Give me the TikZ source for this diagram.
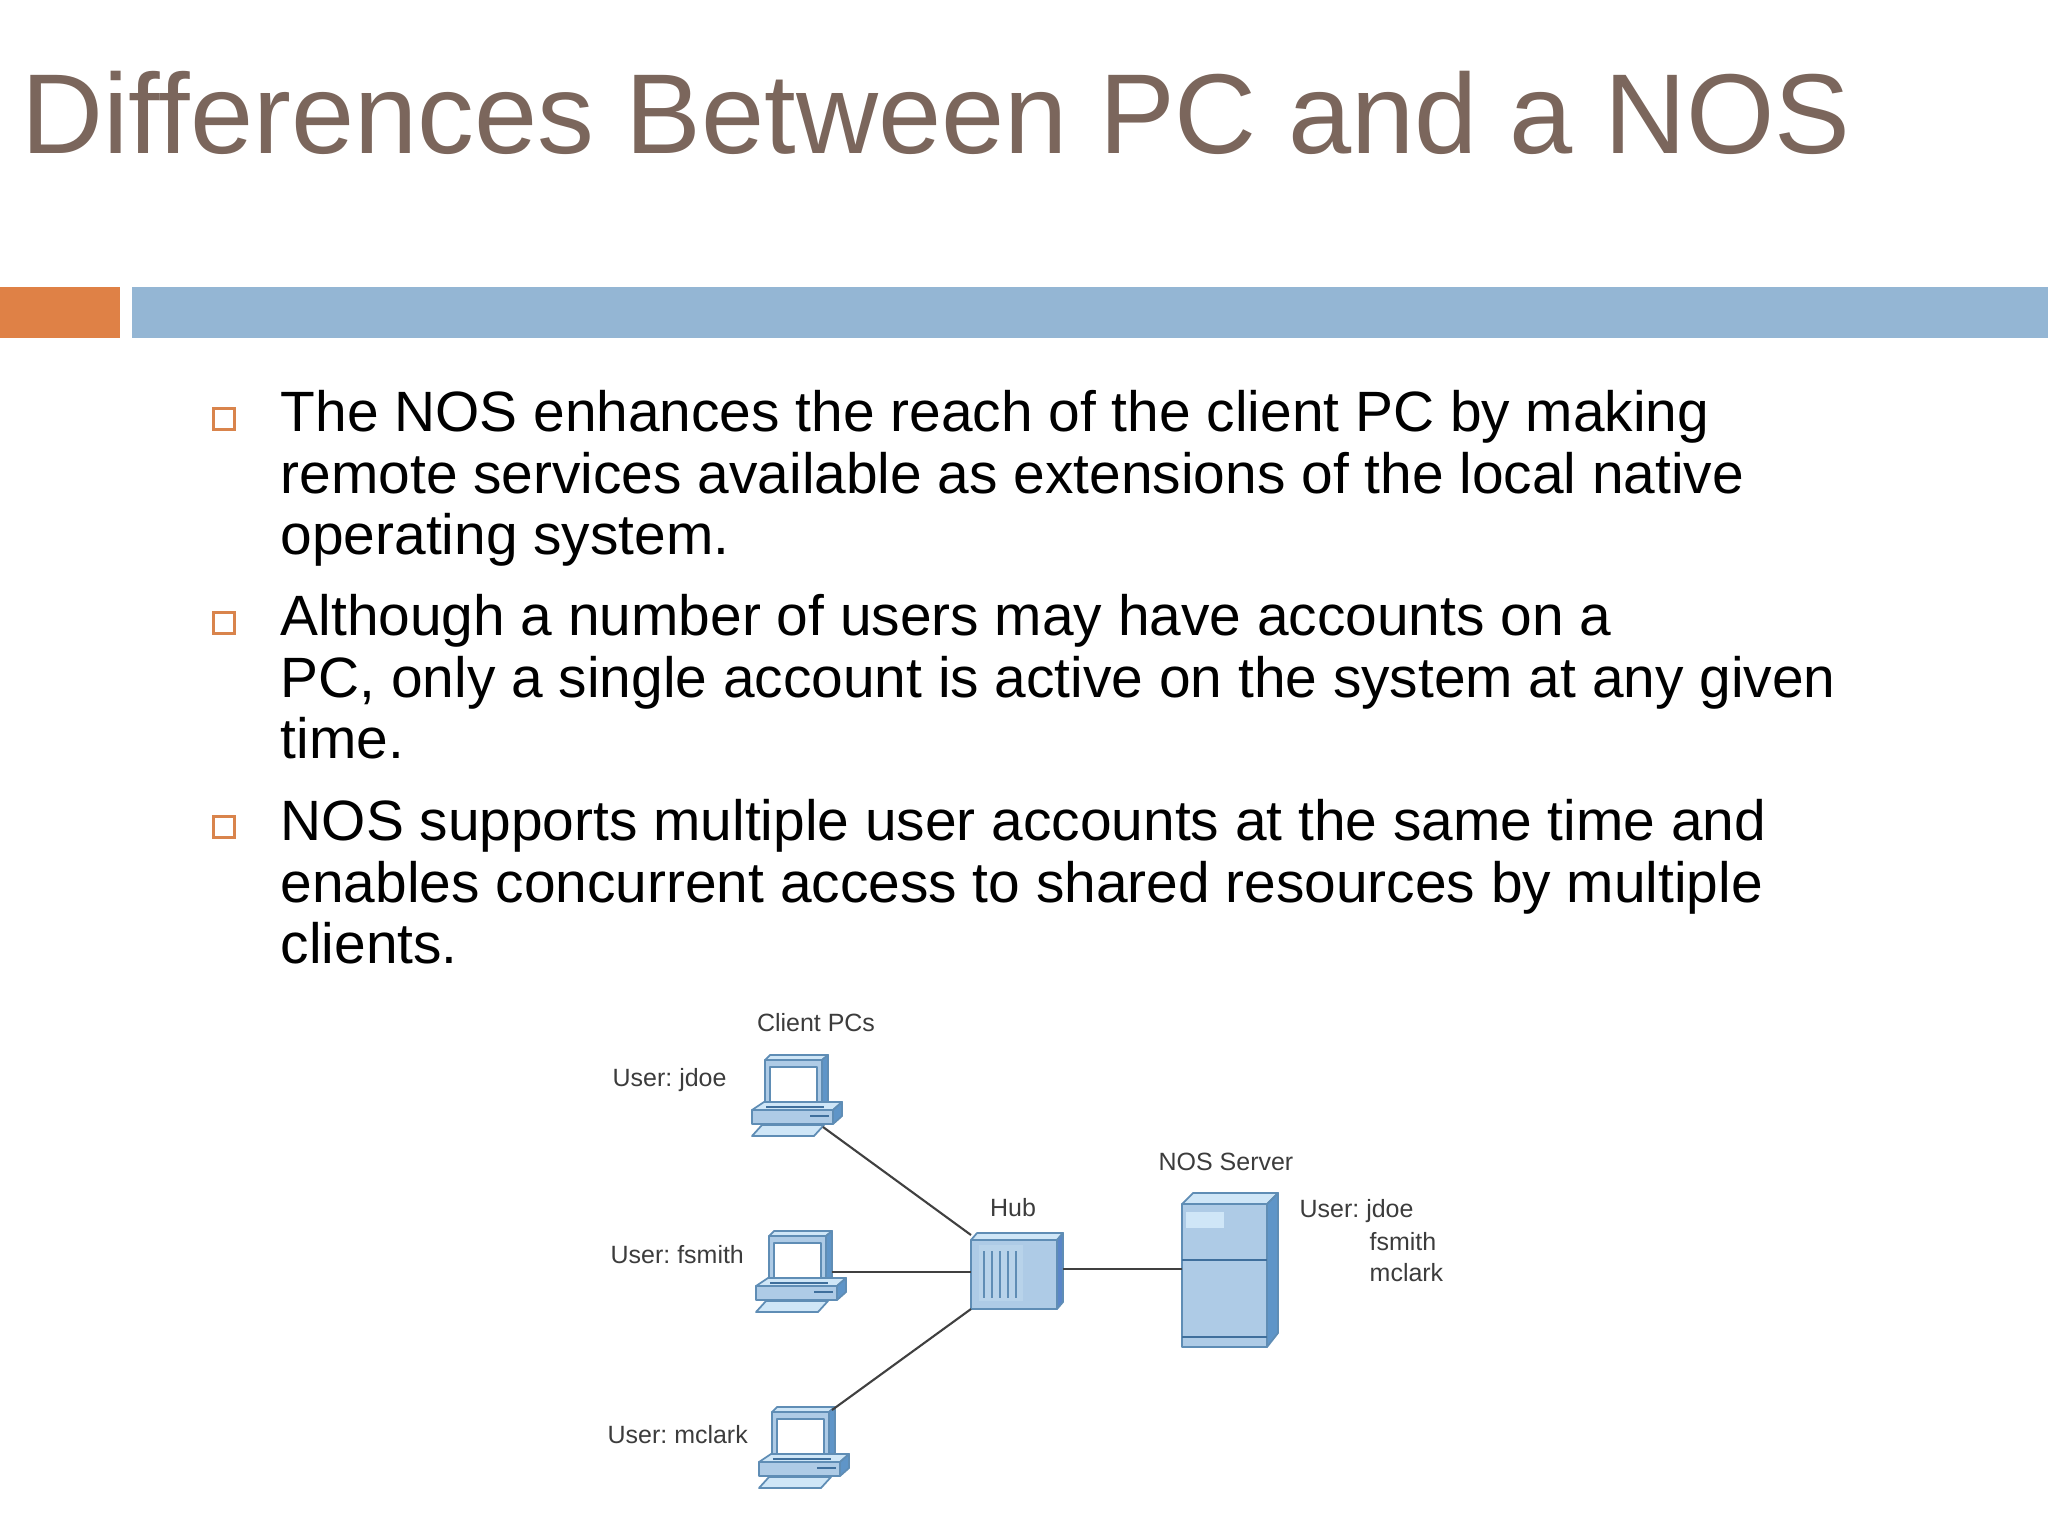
\documentclass[tikz,border=0pt]{standalone}
\usepackage{fontspec}
\setmainfont{Liberation Sans}
\definecolor{titlegray}{HTML}{7B665C}
\definecolor{barorange}{HTML}{DF8146}
\definecolor{barblue}{HTML}{94B6D4}
\definecolor{boxorange}{HTML}{D9844C}
\definecolor{iconline}{HTML}{5F8DB5}
\definecolor{iconfront}{HTML}{AECBE6}
\definecolor{iconlight}{HTML}{CFE6F7}
\definecolor{iconpanel}{HTML}{B8D3EA}
\definecolor{iconside}{HTML}{5F95C8}
\definecolor{iconhub}{HTML}{5A86C8}
\definecolor{icondark}{HTML}{3F6F9C}
\definecolor{linkgray}{HTML}{404040}
\definecolor{labelgray}{HTML}{3C3C3C}
\tikzset{
  titletext/.style={anchor=base west, inner sep=0pt, text=titlegray, font=\fontsize{32.3pt}{38pt}\selectfont},
  bodytext/.style={anchor=north west, inner sep=0pt, align=left, text=black, font=\fontsize{16.17pt}{17.47pt}\selectfont},
  boxmark/.style={draw=boxorange, line width=0.8pt, fill=white, minimum size=0.21cm, inner sep=0pt},
  smalllabel/.style={inner sep=0pt, text=labelgray, font=\frenchspacing\fontsize{7.1pt}{8.5pt}\selectfont},
  iconpart/.style={draw=iconline, line width=0.5pt, line join=round},
  link/.style={draw=linkgray, line width=0.6pt},
  pcicon/.pic={
    % Monitor
    \draw[iconpart, fill=iconlight] (13,5) -- (18,0) -- (76,0) -- (70,5) -- cycle;
    \draw[iconpart, fill=iconside] (70,5) -- (76,0) -- (76,46) -- (70,51) -- cycle;
    \draw[iconpart, fill=iconfront] (13,5) rectangle (70,51);
    \draw[iconpart, fill=white] (18,12) rectangle (65,47);
    % Base
    \draw[iconpart, fill=iconlight] (0,55) -- (12,47) -- (90,47) -- (81,55) -- cycle;
    \draw[iconpart, fill=iconside] (81,55) -- (90,47) -- (90,61) -- (81,69) -- cycle;
    \draw[iconpart, fill=iconfront] (0,55) rectangle (81,69);
    \draw[icondark, line width=0.6pt] (58,61) -- (77,61);
    \draw[icondark, line width=0.7pt] (14,52) -- (72,52);
    % Teclado
    \draw[iconpart, fill=iconlight] (0,81) -- (10,70) -- (72,70) -- (62,81) -- cycle;
    \coordinate (-low) at (71,72);
    \coordinate (-east) at (76,41);
    \coordinate (-high) at (73,3);
  },
  hubicon/.pic={
    \draw[iconpart, fill=iconlight] (0,7) -- (6,0) -- (92,0) -- (86,7) -- cycle;
    \draw[iconpart, fill=iconhub] (86,7) -- (92,0) -- (92,69) -- (86,76) -- cycle;
    \draw[iconpart, fill=iconfront] (0,7) rectangle (86,76);
    \fill[iconpanel] (8,12) rectangle (52,68);
    \foreach \xpos in {13,21,29,37,45}
      \draw[iconline, line width=0.4pt] (\xpos,18) -- (\xpos,65);
    \coordinate (-nw) at (0,2);
    \coordinate (-w) at (0,39);
    \coordinate (-sw) at (0,76);
    \coordinate (-e) at (92,36);
  },
  servericon/.pic={
    \draw[iconpart, fill=iconlight] (0,11) -- (11,0) -- (96,0) -- (85,11) -- cycle;
    \draw[iconpart, fill=iconside] (85,11) -- (96,0) -- (96,140) -- (85,154) -- cycle;
    \draw[iconpart, fill=iconfront] (0,11) rectangle (85,154);
    \draw[icondark, line width=0.5pt] (0,67) -- (85,67);
    \draw[icondark, line width=0.5pt] (0,144) -- (85,144);
    \fill[iconlight] (4,19) rectangle (42,35);
    \coordinate (-w) at (0,76);
  }
}
\begin{document}
\begin{tikzpicture}[x=0.01cm, y=-0.01cm]
    \useasboundingbox (0,0) rectangle (2048,1536);
    % Titulo
    \node[titletext] (title) at (21,153) {Differences Between PC and a NOS};
    % Barras
    \fill[barorange] (0,287) rectangle (120,338);
    \fill[barblue] (132,287) rectangle (2048,338);
    % Marcadores
    \node[boxmark] (marka) at (224,419) {};
    \node[boxmark] (markb) at (224,623) {};
    \node[boxmark] (markc) at (224,827) {};
    % Texto
    \node[bodytext] (bodya) at (280,390) {The NOS enhances the reach of the client PC by making\\remote services available as extensions of the local native\\operating system.};
    \node[bodytext] (bodyb) at (280,594) {Although a number of users may have accounts on a\\PC, only a single account is active on the system at any given\\time.};
    \node[bodytext] (bodyc) at (280,799) {NOS supports multiple user accounts at the same time and\\enables concurrent access to shared resources by multiple\\clients.};
    % Icones
    \pic (pca) at (752,1055) {pcicon};
    \pic (pcb) at (756,1231) {pcicon};
    \pic (pcc) at (759,1407) {pcicon};
    \pic (hub) at (971,1233) {hubicon};
    \pic (server) at (1182,1193) {servericon};
    % Ligacoes
    \draw[link] (pca-low) -- (hub-nw);
    \draw[link] (pcb-east) -- (hub-w);
    \draw[link] (pcc-high) -- (hub-sw);
    \draw[link] (hub-e) -- (server-w);
    % Rotulos
    \node[smalllabel] (clientlabel) at (816,1023) {Client PCs};
    \node[smalllabel, anchor=west] (usera) at (612,1080) {User: jdoe};
    \node[smalllabel, anchor=west] (userb) at (610,1255) {User: fsmith};
    \node[smalllabel, anchor=west] (userc) at (607,1435) {User: mclark};
    \node[smalllabel] (hublabel) at (1013,1208) {Hub};
    \node[smalllabel] (serverlabel) at (1226,1162) {NOS Server};
    \node[smalllabel, anchor=west] (accounta) at (1299,1211) {User: jdoe};
    \node[smalllabel, anchor=west] (accountb) at (1369,1242) {fsmith};
    \node[smalllabel, anchor=west] (accountc) at (1369,1273) {mclark};
\end{tikzpicture}
\end{document}
